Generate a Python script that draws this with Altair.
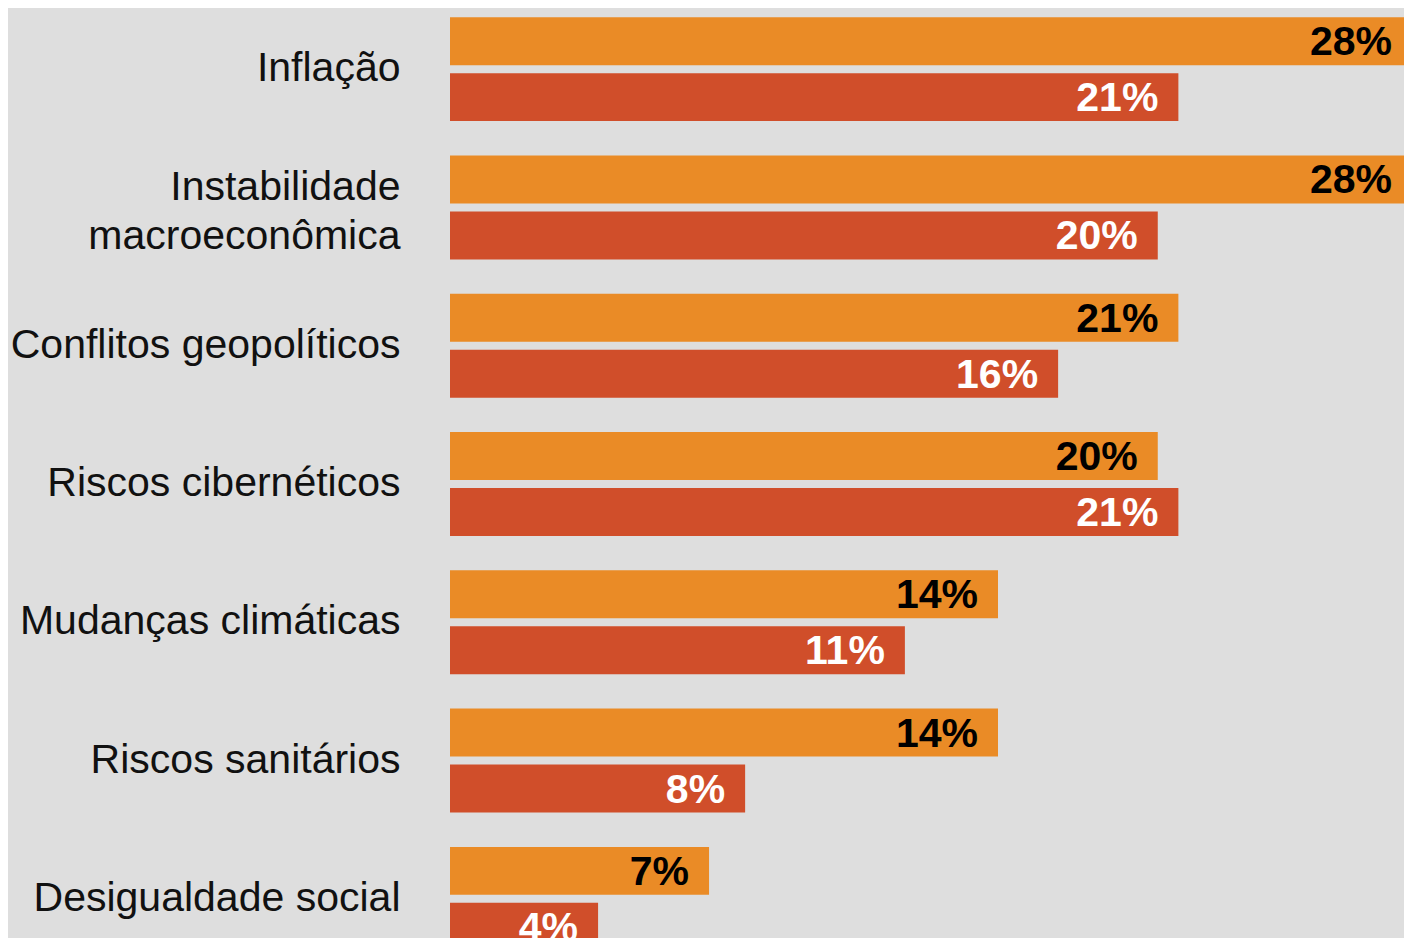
import altair as alt
import pandas as pd

# Categories (the line break marks where the label wraps)
categories = [
    "Inflação",
    "Instabilidade\nmacroeconômica",
    "Conflitos geopolíticos",
    "Riscos cibernéticos",
    "Mudanças climáticas",
    "Riscos sanitários",
    "Desigualdade social",
]
series = ["Série 1", "Série 2"]

# Bar extents (in % units)
bar_s1 = [28.0, 28.0, 21.2, 20.6, 15.95, 15.95, 7.54]
bar_s2 = [21.2, 20.6, 17.7, 21.2, 13.24, 8.59, 4.31]

# Printed value labels
label_s1 = ["28%", "28%", "21%", "20%", "14%", "14%", "7%"]
label_s2 = ["21%", "20%", "16%", "21%", "11%", "8%", "4%"]

rows = []
for i, c in enumerate(categories):
    rows.append({"category": c, "series": series[0], "value": bar_s1[i], "label": label_s1[i]})
    rows.append({"category": c, "series": series[1], "value": bar_s2[i], "label": label_s2[i]})
df = pd.DataFrame(rows)

ORANGE = "#ea8b26"
RED = "#d04e2a"
BG = "#dedede"
FONT = "Liberation Sans"

base = alt.Chart(df).encode(
    y=alt.Y(
        "category:N",
        sort=categories,
        scale=alt.Scale(range=[-8, 960], paddingInner=0, paddingOuter=0),
        axis=alt.Axis(
            title=None,
            domain=False,
            ticks=False,
            labelPadding=50,
            labelFontSize=41,
            labelFont=FONT,
            labelColor="#111111",
            labelLimit=600,
            labelLineHeight=49,
            labelBaseline="middle",
            labelExpr="split(datum.label, '\\n')",
            labelOffset={
                "condition": {"test": "indexof(datum.value, '\\n') >= 0", "value": -19},
                "value": 0,
            },
        ),
    ),
    yOffset=alt.YOffset(
        "series:N",
        sort=series,
        scale=alt.Scale(paddingInner=0.143, paddingOuter=0.3066),
    ),
    x=alt.X("value:Q", scale=alt.Scale(domain=[0, 27.767], nice=False), axis=None),
)

bars = base.mark_bar().encode(
    color=alt.Color(
        "series:N", scale=alt.Scale(domain=series, range=[ORANGE, RED]), legend=None
    )
)

text = base.mark_text(
    align="right", baseline="middle", dx=-20, dy=2,
    fontSize=41, fontWeight="bold", font=FONT,
).encode(
    text="label:N",
    color=alt.Color(
        "series:N", scale=alt.Scale(domain=series, range=["#000000", "#ffffff"]), legend=None
    ),
)

chart = (
    alt.layer(bars, text)
    .resolve_scale(color="independent")
    .properties(
        width=954,
        height=930,
        autosize=alt.AutoSizeParams(type="none"),
        padding={"left": 442, "top": 0, "right": 0, "bottom": 0},
    )
    .configure(background=BG)
    .configure_view(stroke=None)
)

chart.save("out.html", embed_options={"renderer": "svg", "actions": False})
